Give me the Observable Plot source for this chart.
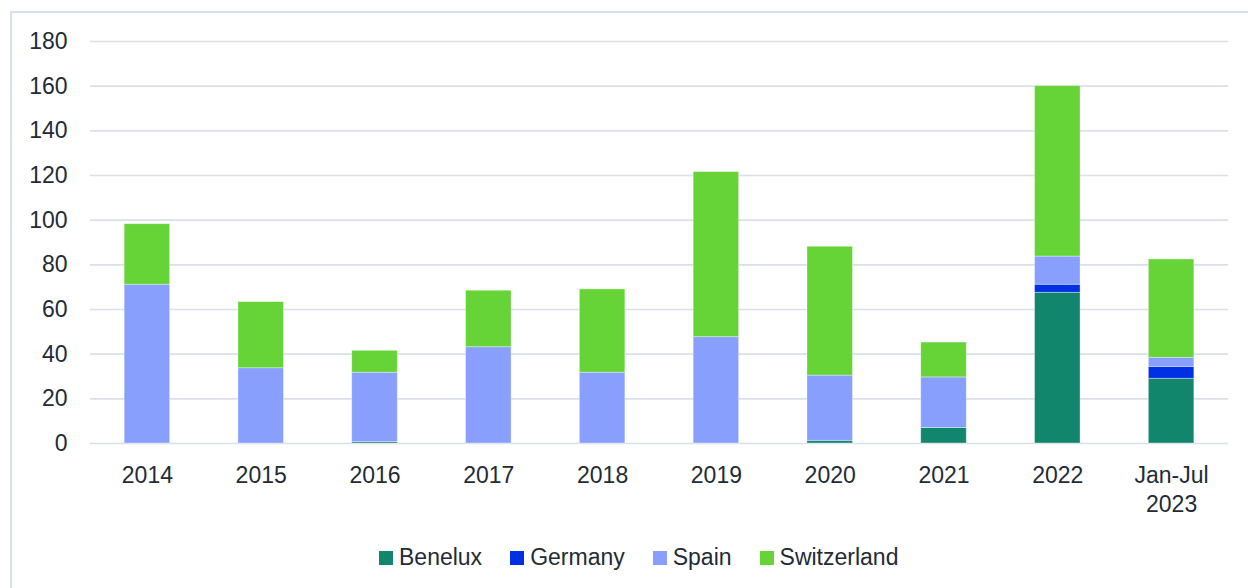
<!DOCTYPE html>
<html>
<head>
<meta charset="utf-8">
<script src="https://cdn.jsdelivr.net/npm/d3@7"></script>
<script src="https://cdn.jsdelivr.net/npm/@observablehq/plot@0.6"></script>
<style>
  html, body { margin: 0; padding: 0; background: #fff; overflow: hidden; }
  body { width: 1248px; height: 588px; position: relative; font-family: "Liberation Sans", Arial, sans-serif; }
  #frame { position: absolute; left: 10px; top: 11px; width: 1260px; height: 600px; border: 2px solid #d8e0ea; box-sizing: border-box; }
  #chart { position: absolute; left: 0; top: 0; }
  #legend { position: absolute; left: 379px; top: 544px; display: flex; align-items: center; font-size: 23px; color: #222b36; }
  .item { display: flex; align-items: center; margin-right: 28px; }
  .sw { width: 14px; height: 14px; margin-right: 6px; }
</style>
</head>
<body>
<div id="frame"></div>
<div id="chart"></div>
<div id="legend"></div>
<script>
const categories = ["2014", "2015", "2016", "2017", "2018", "2019", "2020", "2021", "2022", "Jan-Jul\n2023"];
const series = ["Benelux", "Germany", "Spain", "Switzerland"];
const colors = ["#11866c", "#0030e3", "#889ffd", "#66d337"];
const benelux     = [0,    0,    0.6,  0,    0,    0,    1.2,  6.9,  67.5, 29.0];
const germany     = [0,    0,    0,    0,    0,    0,    0,    0,    3.6,  5.3];
const spain       = [71.1, 33.7, 31.1, 43.1, 31.7, 47.6, 29.2, 22.7, 12.6, 4.1];
const switzerland = [27.1, 29.6, 9.8,  25.3, 37.3, 73.9, 57.7, 15.6, 76.3, 44.0];
const yTicks = [0, 20, 40, 60, 80, 100, 120, 140, 160, 180];

const valuesBySeries = [benelux, germany, spain, switzerland];
const rows = [];
series.forEach((s, si) => {
  categories.forEach((c, ci) => {
    rows.push({category: c, series: s, value: valuesBySeries[si][ci]});
  });
});

const textColor = "#222b36";
const chart = Plot.plot({
  width: 1248,
  height: 520,
  marginTop: 41,
  marginBottom: 77,
  marginLeft: 90,
  marginRight: 20,
  style: {fontFamily: "'Liberation Sans', Arial, sans-serif", fontSize: "23px", color: textColor, background: "transparent"},
  x: {domain: categories, paddingInner: 0.6, paddingOuter: 0.3, round: false, label: null},
  y: {domain: [0, 180], ticks: yTicks, label: null},
  color: {domain: series, range: colors},
  marks: [
    Plot.gridY(yTicks, {stroke: "#d8e0ea", strokeOpacity: 1, strokeWidth: 1.6}),
    Plot.barY(rows, Plot.stackY({order: series}, {
      x: "category", y: "value", fill: "series", z: "series",
      stroke: "white", strokeWidth: 0.8, strokeOpacity: 0.45
    })),
    Plot.axisY(yTicks, {tickSize: 0, tickPadding: 23, fontSize: 23, fill: textColor, label: null}),
    Plot.axisX({tickSize: 0, tickPadding: 19, fontSize: 23, fill: textColor, lineHeight: 1.27, label: null})
  ]
});
document.getElementById("chart").appendChild(chart);

const legend = document.getElementById("legend");
series.forEach((s, i) => {
  const item = document.createElement("div");
  item.className = "item";
  const sw = document.createElement("div");
  sw.className = "sw";
  sw.style.background = colors[i];
  const label = document.createElement("span");
  label.textContent = s;
  item.appendChild(sw);
  item.appendChild(label);
  legend.appendChild(item);
});
</script>
</body>
</html>
